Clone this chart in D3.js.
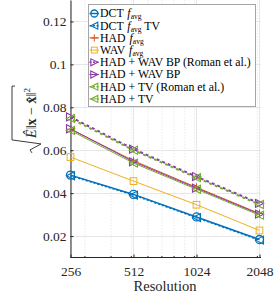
<!DOCTYPE html>
<html lang="en">
<head>
  <meta charset="UTF-8">
  <title>Error vs resolution</title>
  <style>
    html, body { margin: 0; background: #fff; }
    svg { display: block; }
    svg text { font-family: "Liberation Serif", serif; }
  </style>
</head>
<body>
  <script src="https://d3js.org/d3.v7.min.js"></script>
  <script>
    const resolutions = [256, 512, 1024, 2048];
    const yTicks = [0.02, 0.04, 0.06, 0.08, 0.1, 0.12];

    const dctAvg     = [0.0484, 0.0394, 0.0289, 0.0184];
    const dctAvgTV   = [0.0481, 0.0391, 0.0286, 0.0181];
    const hadAvg     = [0.0698, 0.0551, 0.0427, 0.0305];
    const wavAvg     = [0.0568, 0.0456, 0.0346, 0.0226];
    const hadWavRom  = [0.0755, 0.0605, 0.0477, 0.0352];
    const hadWav     = [0.0700, 0.0546, 0.0423, 0.0302];
    const hadTvRom   = [0.0748, 0.0600, 0.0472, 0.0347];
    const hadTv      = [0.0692, 0.0540, 0.0418, 0.0297];

    // name parts: [text, italic / sub]
    const series = [
      { label: [["DCT "], ["f", "i"], ["avg", "s"]], values: dctAvg, color: "#0072BD", dash: null, width: 1.5, marker: "circle" },
      { label: [["DCT "], ["f", "i"], ["avg", "s"], [" TV"]], values: dctAvgTV, color: "#0072BD", dash: "2,2", width: 1.5, marker: "left" },
      { label: [["HAD "], ["f", "i"], ["avg", "s"]], values: hadAvg, color: "#D95319", dash: null, width: 1, marker: "plus" },
      { label: [["WAV "], ["f", "i"], ["avg", "s"]], values: wavAvg, color: "#EDB120", dash: null, width: 1, marker: "square" },
      { label: [["HAD + WAV BP (Roman et al.)"]], values: hadWavRom, color: "#8B3AA6", dash: "3,3", width: 2, marker: "right" },
      { label: [["HAD + WAV BP"]], values: hadWav, color: "#8B3AA6", dash: null, width: 1, marker: "right" },
      { label: [["HAD + TV (Roman et al.)"]], values: hadTvRom, color: "#77AC30", dash: "3,3", width: 2, marker: "left", offset: 3 },
      { label: [["HAD + TV"]], values: hadTv, color: "#77AC30", dash: null, width: 1, marker: "left" }
    ];

    const W = 274, H = 296;

    const svg = d3.select("body").append("svg")
      .attr("width", W).attr("height", H);

    const x = d3.scaleLog().base(2).domain([256, 2048]).range([70.5, 259.5]);
    const y = d3.scaleLinear().domain([0.01, 0.13]).range([257.5, 0]);

    // grid
    const minor = [300, 400, 500, 600, 700, 800, 900, 1000, 2000];
    svg.append("g").selectAll("line").data(minor).join("line")
      .attr("x1", d => x(d)).attr("x2", d => x(d))
      .attr("y1", 0).attr("y2", y(0.01))
      .attr("stroke", "#e4e4e4").attr("stroke-dasharray", "1.5,1.5").attr("stroke-width", 0.8);
    svg.append("g").selectAll("line").data(resolutions).join("line")
      .attr("x1", d => x(d)).attr("x2", d => x(d))
      .attr("y1", 0).attr("y2", y(0.01))
      .attr("stroke", "#e6e6e6");
    svg.append("g").selectAll("line").data(yTicks).join("line")
      .attr("x1", x(256)).attr("x2", 261)
      .attr("y1", d => Math.round(y(d)) + 0.5).attr("y2", d => Math.round(y(d)) + 0.5)
      .attr("stroke", "#e6e6e6");

    // axes
    const xAxis = svg.append("g")
      .attr("transform", `translate(0,${y(0.01)})`)
      .call(d3.axisBottom(x).tickValues(resolutions).tickFormat(d3.format("d")).tickSizeInner(-3).tickSizeOuter(0));
    xAxis.attr("font-family", null);
    xAxis.select(".domain").attr("stroke", "#262626").attr("d", `M${x(256)},0H261`);
    xAxis.selectAll(".tick line").attr("stroke", "#262626");
    xAxis.selectAll("text").attr("font-size", 13.5)
      .attr("fill", "#262626").attr("dy", "1.15em");
    svg.append("g").selectAll("line").data(minor).join("line")
      .attr("x1", d => x(d)).attr("x2", d => x(d))
      .attr("y1", y(0.01)).attr("y2", y(0.01) - 1.5)
      .attr("stroke", "#262626");

    const yAxis = svg.append("g")
      .attr("transform", `translate(${x(256)},0)`)
      .call(d3.axisLeft(y).tickValues(yTicks).tickFormat(d => String(+d.toFixed(2))).tickSizeInner(-3).tickSizeOuter(0));
    yAxis.attr("font-family", null);
    yAxis.select(".domain").attr("stroke", "#262626");
    yAxis.selectAll(".tick line").attr("stroke", "#262626");
    yAxis.selectAll("text").attr("font-size", 13.5)
      .attr("fill", "#262626").attr("x", -4);

    // labels
    svg.append("text")
      .attr("x", 165).attr("y", 291)
      .attr("text-anchor", "middle")
      .attr("font-size", 14.5).attr("fill", "#262626")
      .text("Resolution");

    const yl = svg.append("g").attr("transform", "translate(36,113) rotate(-90)");
    const ylt = yl.append("text")
      .attr("text-anchor", "middle")
      .attr("font-size", 14).attr("fill", "#262626");
    ylt.append("tspan").attr("font-style", "italic").text("\u00CA");
    ylt.append("tspan").text("\u2016");
    ylt.append("tspan").attr("font-weight", "bold").text("x");
    ylt.append("tspan").text(" \u2212 ");
    ylt.append("tspan").attr("font-weight", "bold").text("x\u0302");
    ylt.append("tspan").text("\u2016");
    ylt.append("tspan").attr("font-size", 9).attr("dy", -6).text("2");
    const bb = ylt.node().getBBox();
    const x0 = bb.x, x1 = bb.x + bb.width;
    yl.append("path")
      .attr("d", `M${x0 - 14},-4 L${x0 - 11},-6 L${x0 - 5},5 L${x0 - 1},-24 L${x1 + 2},-24 L${x1 + 2},-21`)
      .attr("fill", "none").attr("stroke", "#262626").attr("stroke-width", 0.9);

    // markers
    function drawMarker(g, type, cx, cy, color, s) {
      if (type === "circle") {
        g.append("circle").attr("cx", cx).attr("cy", cy).attr("r", s * 0.5)
          .attr("fill", "none").attr("stroke", color).attr("stroke-width", 1.3);
      } else if (type === "square") {
        g.append("rect").attr("x", cx - s * 0.42).attr("y", cy - s * 0.42)
          .attr("width", s * 0.84).attr("height", s * 0.84)
          .attr("fill", "none").attr("stroke", color).attr("stroke-width", 1);
      } else if (type === "plus") {
        g.append("path").attr("d", `M${cx - s / 2},${cy}H${cx + s / 2}M${cx},${cy - s / 2}V${cy + s / 2}`)
          .attr("stroke", color).attr("stroke-width", 1);
      } else {
        const h = s * 0.5;
        const d = type === "left"
          ? `M${cx - h},${cy}L${cx + h},${cy - h}L${cx + h},${cy + h}Z`
          : `M${cx + h},${cy}L${cx - h},${cy - h}L${cx - h},${cy + h}Z`;
        g.append("path").attr("d", d).attr("fill", "none")
          .attr("stroke", color).attr("stroke-width", 1.1);
      }
    }

    const line = d3.line().x(d => x(d[0])).y(d => y(d[1]));
    const plot = svg.append("g");
    series.forEach(s => {
      const pts = resolutions.map((r, i) => [r, s.values[i]]);
      plot.append("path").datum(pts)
        .attr("d", line)
        .attr("fill", "none")
        .attr("stroke", s.color)
        .attr("stroke-width", s.width)
        .attr("stroke-dasharray", s.dash)
        .attr("stroke-dashoffset", s.offset || 0);
      pts.forEach(p => drawMarker(plot, s.marker, x(p[0]), y(p[1]), s.color, 8));
    });

    // legend
    const lg = svg.append("g");
    lg.append("rect").attr("x", 88.5).attr("y", 4.5).attr("width", 167).attr("height", 102)
      .attr("fill", "#fff").attr("stroke", "#a6a6a6").attr("stroke-width", 1);
    series.forEach((s, i) => {
      const cy = 13.5 + i * 12.2;
      lg.append("line").attr("x1", 89.5).attr("x2", 99).attr("y1", cy).attr("y2", cy)
        .attr("stroke", s.color).attr("stroke-width", Math.min(s.width, 1.5))
        .attr("stroke-dasharray", s.dash ? "2,1.5" : null);
      drawMarker(lg, s.marker, 94.3, cy, s.color, 7);
      const t = lg.append("text").attr("x", 100).attr("y", cy + 3.8)
        .attr("font-size", 11.8).attr("fill", "#000");
      s.label.forEach((part, k) => {
        const sp = t.append("tspan").text(part[0]);
        if (part[1] === "i") sp.attr("font-style", "italic").attr("dx", 1);
        else if (part[1] === "s") sp.attr("font-size", 7.5).attr("dy", 2);
        else if (k > 0) sp.attr("dy", -2);
      });
    });
  </script>
</body>
</html>
